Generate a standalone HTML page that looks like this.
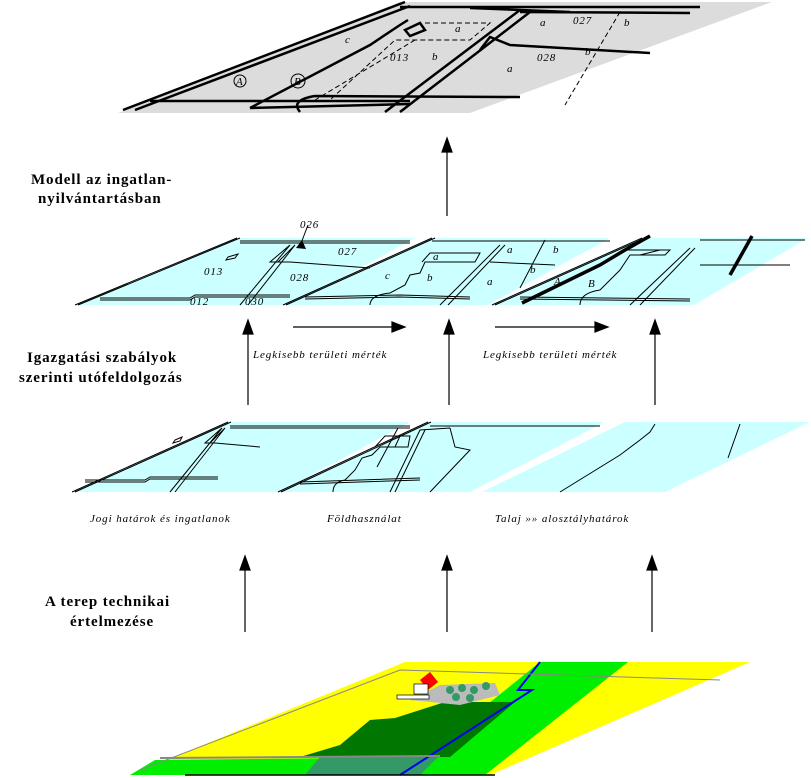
<!DOCTYPE html>
<html><head><meta charset="utf-8"><style>
html,body{margin:0;padding:0;background:#fff;}
svg{display:block;}
.t{font-family:"Liberation Serif",serif;font-size:15px;font-weight:bold;letter-spacing:0.9px;fill:#000;}
.i{font-family:"Liberation Serif",serif;font-style:italic;font-size:11px;letter-spacing:0.9px;fill:#000;}
.d{fill:none;stroke:#000;stroke-width:1;}
.d2{fill:none;stroke:#000;stroke-width:2.5;}
</style></head><body>
<svg width="811" height="778" viewBox="0 0 811 778" xmlns="http://www.w3.org/2000/svg">
<!-- Top plate -->
<polygon points="400,2 772,2 470,113 118,113" fill="#dcdcdc"/>
<path class="d2" d="M123,110 L405,2 M135,110 L410,6"/>
<path class="d2" d="M150,101 L410,101 M250,108 L410,104"/>
<path class="d2" d="M250,108 L370,45 L400,25 L408,20"/>
<path class="d2" d="M400,7 L700,7 M470,8 L570,12 M520,12 L690,13"/>
<path class="d2" d="M300,112 Q290,100 315,96 L520,97"/>
<path class="d2" d="M385,112 L520,10 M400,112 L530,12"/>
<path class="d2" d="M480,50 L490,37 L510,45 L650,53"/>
<path class="d2" d="M405,30 L420,23 L425,30 L410,36 Z"/>
<path class="d" stroke-dasharray="5,3" d="M425,23 L490,23 L470,40 L395,40 L330,100 M415,40 L315,100"/>
<path class="d" stroke-dasharray="5,3" d="M620,12 L565,105"/>
<circle cx="240" cy="81" r="6" class="d"/><text x="236" y="85" class="i" font-size="9">A</text>
<circle cx="298" cy="81" r="7" class="d"/><text x="294" y="85" class="i" font-size="9">B</text>
<text x="345" y="43" class="i">c</text><text x="455" y="32" class="i" font-size="10">a</text>
<text x="390" y="61" class="i">013</text><text x="432" y="60" class="i">b</text>
<text x="540" y="26" class="i">a</text><text x="573" y="24" class="i">027</text><text x="624" y="26" class="i">b</text>
<text x="537" y="61" class="i">028</text><text x="507" y="72" class="i">a</text><text x="585" y="55" class="i">b</text>
<!-- middle plates -->
<polygon points="75,305 235,238 415,238 292,305" fill="#ccffff"/>
<polygon points="282,305 430,238 610,238 488,305" fill="#ccffff"/>
<polygon points="490,305 640,238 808,238 694,305" fill="#ccffff"/>
<g class="d">
<path d="M75,305 L237,238 M78,305 L240,238"/>
<path d="M100,298 L190,298 L195,295 L290,295 M100,300 L190,300 L195,297 L290,297"/>
<path d="M240,241 L410,241 M240,243 L410,243"/>
<path d="M240,305 L290,245 L270,262 L290,262 L370,268 M248,305 L295,245 L278,262"/>
<path d="M228,257 L238,254 L235,258 L226,260 Z"/>
<path d="M283,305 L432,238 M286,305 L435,238"/>
<path d="M305,297 L400,295 L470,297 M305,299 L400,297 L470,299"/>
<path d="M432,241 L610,241"/>
<path d="M370,305 Q370,295 390,293 L405,285 L410,275 L420,273 L425,262 L475,262 L480,253 L430,253 L422,262"/>
<path d="M440,305 L500,245 M448,305 L505,245 M490,262 L555,265 M520,288 L545,240"/>
<path d="M492,305 L642,238 M495,305 L645,238"/>
<path d="M520,297 L690,299 M520,299 L690,301"/>
<path d="M580,305 Q580,293 600,290 L620,270 L630,255 L665,255 L670,250 L625,250 M640,255 L660,250"/>
<path d="M630,305 L690,248 M640,305 L695,248 M700,265 L790,265 M700,240 L805,240"/>
</g>
<path d="M522,303 L600,265 L625,250 L650,236" stroke="#000" stroke-width="3.5" fill="none"/>
<path d="M730,275 L752,236" stroke="#000" stroke-width="3.5" fill="none"/>
<path class="d" d="M308,225 L300,246"/><polygon points="296,248 302,240 306,249" fill="#000"/>
<text x="300" y="228" class="i">026</text>
<text x="338" y="255" class="i">027</text><text x="204" y="275" class="i">013</text><text x="290" y="281" class="i">028</text>
<text x="190" y="305" class="i">012</text><text x="245" y="305" class="i">030</text>
<text x="433" y="260" class="i">a</text><text x="507" y="253" class="i">a</text><text x="553" y="253" class="i">b</text>
<text x="385" y="279" class="i">c</text><text x="427" y="281" class="i">b</text><text x="487" y="285" class="i">a</text><text x="530" y="273" class="i">b</text>
<text x="554" y="285" class="i">A</text><text x="588" y="287" class="i" font-size="9">B</text>
<!-- lower plates -->
<polygon points="72,492 228,422 410,422 280,492" fill="#ccffff"/>
<polygon points="278,492 428,422 605,422 470,492" fill="#ccffff"/>
<polygon points="482,492 625,422 810,422 665,492" fill="#ccffff"/>
<g class="d">
<path d="M72,492 L228,422 M75,492 L231,422"/>
<path d="M230,426 L410,426 M230,428 L410,428"/>
<path d="M85,480 L145,480 L150,477 L218,477 M85,482 L145,482 L150,479 L218,479"/>
<path d="M170,492 L222,428 L205,443 L215,443 L260,447 M175,492 L225,428 L210,443"/>
<path d="M175,440 L182,437 L180,441 L173,443 Z"/>
<path d="M278,492 L428,422 M281,492 L431,422"/>
<path d="M300,482 L420,478 M300,484 L420,480"/>
<path d="M430,426 L600,426"/>
<path d="M333,492 Q333,482 345,480 L355,470 L362,458 L372,455 L380,447 L408,447 L410,436 L385,436 L375,447 M395,447 L400,436"/>
<path d="M390,492 L420,430 L450,428 M395,492 L425,430 M450,428 L455,447 L470,450 L430,492"/>
<path d="M377,467 L398,428"/>
<path d="M560,492 L620,455 L640,440 L650,432 L655,424"/>
<path d="M728,458 L740,424"/>
</g>
<!-- bottom plate -->
<polygon points="405,662 750,662 490,775 130,775" fill="#ffff00"/>
<polygon points="540,662 628,662 485,775 400,775" fill="#00ee00"/>
<polygon points="155,760 440,757 415,775 130,775" fill="#00ee00"/>
<polygon points="395,718 445,702 515,702 450,757 300,757 340,745 370,720" fill="#007700"/>
<polygon points="320,757 440,755 420,775 305,775" fill="#339966"/>
<path d="M540,662 L518,690 L532,690 L400,775" stroke="#0000ee" stroke-width="2" fill="none"/>
<path d="M160,758 L440,756" stroke="#888" stroke-width="2" fill="none"/>
<path d="M140,770 L400,670 L720,680" stroke="#888" stroke-width="1" fill="none"/>
<polygon points="410,700 440,685 495,683 500,695 460,705" fill="#bbbbbb"/>
<polygon points="420,680 430,672 438,682 428,690" fill="#ff0000"/>
<rect x="414" y="684" width="14" height="10" fill="#fff" stroke="#000" stroke-width="0.7"/>
<g fill="#339966"><circle cx="450" cy="690" r="4"/><circle cx="462" cy="688" r="4"/><circle cx="474" cy="690" r="4"/><circle cx="486" cy="686" r="4"/><circle cx="456" cy="697" r="4"/><circle cx="470" cy="698" r="4"/></g>
<rect x="397" y="695" width="32" height="4" fill="#fff" stroke="#000" stroke-width="0.7"/>
<path d="M185,775 L495,775" stroke="#000" stroke-width="1.5"/>
<!-- arrows -->
<g stroke="#000" stroke-width="1.2" fill="#000">
<line x1="447" y1="216" x2="447" y2="150"/><polygon points="442,152 452,152 447,138"/>
<line x1="248" y1="405" x2="248" y2="332"/><polygon points="243,334 253,334 248,320"/>
<line x1="449" y1="405" x2="449" y2="332"/><polygon points="444,334 454,334 449,320"/>
<line x1="655" y1="405" x2="655" y2="332"/><polygon points="650,334 660,334 655,320"/>
<line x1="245" y1="632" x2="245" y2="568"/><polygon points="240,570 250,570 245,556"/>
<line x1="447" y1="632" x2="447" y2="568"/><polygon points="442,570 452,570 447,556"/>
<line x1="652" y1="632" x2="652" y2="568"/><polygon points="647,570 657,570 652,556"/>
<line x1="293" y1="327" x2="394" y2="327"/><polygon points="392,322 392,332 405,327"/>
<line x1="495" y1="327" x2="597" y2="327"/><polygon points="595,322 595,332 608,327"/>
</g>
<!-- labels -->
<text x="31" y="184" class="t">Modell az ingatlan-</text>
<text x="38" y="203" class="t">nyilvántartásban</text>
<text x="27" y="362" class="t">Igazgatási szabályok</text>
<text x="19" y="382" class="t">szerinti utófeldolgozás</text>
<text x="45" y="606" class="t">A terep technikai</text>
<text x="70" y="626" class="t">értelmezése</text>
<text x="253" y="358" class="i">Legkisebb területi mérték</text>
<text x="483" y="358" class="i">Legkisebb területi mérték</text>
<text x="90" y="522" class="i">Jogi határok és ingatlanok</text>
<text x="327" y="522" class="i">Földhasználat</text>
<text x="495" y="522" class="i">Talaj »» alosztályhatárok</text>
</svg>
</body></html>
